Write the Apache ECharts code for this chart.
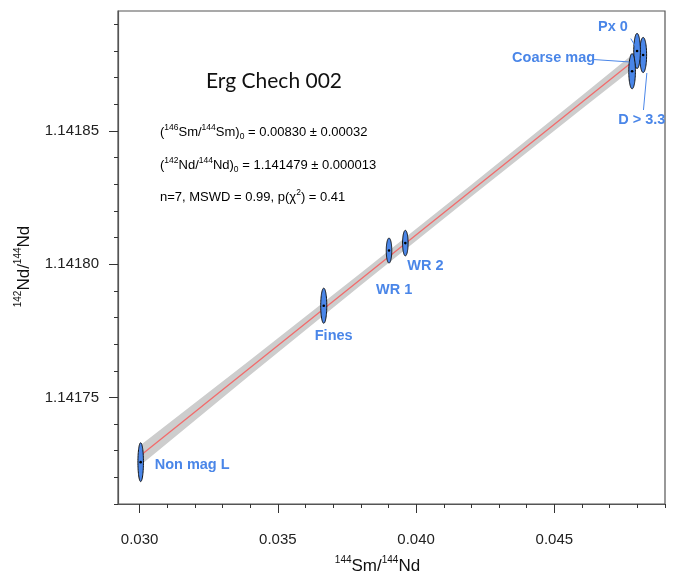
<!DOCTYPE html>
<html>
<head>
<meta charset="utf-8">
<style>
  html, body { margin: 0; padding: 0; background: #fff; }
  #chart { width: 675px; height: 574px; }
</style>
<script src="https://cdn.jsdelivr.net/npm/echarts@6/dist/echarts.min.js"></script>
</head>
<body>
<div id="chart"></div>
<script>
// samples: 144Sm/144Nd vs 142Nd/144Nd, with ellipse half axes
const names = ['Non mag L', 'Fines', 'WR 1', 'WR 2', 'D > 3.3', 'Px 0', 'Coarse mag']
const smNd = [0.03004, 0.03666, 0.03902, 0.03961, 0.04821, 0.04799, 0.04781]
const ndNd = [1.1417257, 1.1417844, 1.1418051, 1.1418079, 1.1418785, 1.14188, 1.1418724]
const errX = [0.0001, 0.00011, 0.0001, 0.0001, 0.000125, 0.00012, 0.00012]
const errY = [0.0000073, 0.0000066, 0.0000047, 0.0000048, 0.0000066, 0.0000066, 0.0000066]

// isochron fit and its error envelope
const fitX = [0.0301, 0.0477]
const fitY = [1.1417288, 1.1418749]
const bandX = [0.0301, 0.034, 0.038, 0.042, 0.046, 0.0477]
const bandLo = [1.1417251, 1.1417584, 1.1417921, 1.1418254, 1.1418583, 1.1418722]
const bandHi = [1.1417326, 1.141764, 1.1417967, 1.1418298, 1.1418633, 1.1418776]

// ticks
const xMajor = [0.030, 0.035, 0.040, 0.045]
const xMinor = [0.031, 0.032, 0.033, 0.034, 0.036, 0.037, 0.038, 0.039, 0.041, 0.042, 0.043, 0.044, 0.046, 0.047, 0.048, 0.049]
const yMajor = [1.14175, 1.1418, 1.14185]
const yMinor = [1.14171, 1.14172, 1.14173, 1.14174, 1.14176, 1.14177, 1.14178, 1.14179,
  1.14181, 1.14182, 1.14183, 1.14184, 1.14186, 1.14187, 1.14188, 1.14189]

const blue = '#4a86e8'
const font = '"Liberation Sans", Arial, sans-serif'

// label placement relative to ellipse centre (px), optional leader line
const labelPos = [
  { dx: 14, dy: 3, align: 'left' },
  { dx: -9, dy: 30, align: 'left' },
  { dx: -13, dy: 39, align: 'left' },
  { dx: 2, dy: 23, align: 'left' },
  { dx: -25, dy: 65, align: 'left', lead: [3.7, 18, 0.3, 55] },
  { dx: -39, dy: -24, align: 'left', lead: [-6.3, -12.4, -1.3, -4] },
  { dx: -37, dy: -13, align: 'right', lead: [-38.7, -11.7, -3, -9.3] },
]

const chart = echarts.init(document.getElementById('chart'))

const renderBand = (params, api) => {
  const pts = []
  bandX.forEach((x, i) => pts.push(api.coord([x, bandHi[i]])))
  for (let i = bandX.length - 1; i >= 0; i--) pts.push(api.coord([bandX[i], bandLo[i]]))
  return { type: 'polygon', shape: { points: pts }, style: { fill: '#cdcdcd' } }
}

const renderEllipse = (params, api) => {
  const i = api.value(4)
  const c = api.coord([api.value(0), api.value(1)])
  const s = api.size([api.value(2), api.value(3)])
  const rx = Math.abs(s[0])
  const ry = Math.abs(s[1])
  const pts = []
  for (let k = 0; k < 72; k++) {
    const a = (k / 72) * Math.PI * 2
    pts.push([c[0] + rx * Math.cos(a), c[1] + ry * Math.sin(a)])
  }
  const lab = labelPos[i]
  const children = [
    { type: 'polygon', shape: { points: pts }, style: { fill: blue, stroke: '#111', lineWidth: 1 } },
    { type: 'circle', shape: { cx: c[0], cy: c[1], r: 1.3 }, style: { fill: '#000' } },
    {
      type: 'text',
      x: c[0] + lab.dx,
      y: c[1] + lab.dy,
      style: {
        text: names[i],
        fill: blue,
        font: 'bold 14.5px ' + font,
        align: lab.align,
        verticalAlign: 'middle',
      },
    },
  ]
  if (lab.lead) {
    children.push({
      type: 'line',
      shape: { x1: c[0] + lab.lead[0], y1: c[1] + lab.lead[1], x2: c[0] + lab.lead[2], y2: c[1] + lab.lead[3] },
      style: { stroke: blue, lineWidth: 1 },
    })
  }
  return { type: 'group', children }
}

const statRich = {
  n: { fontSize: 13, lineHeight: 18, fontFamily: font, color: '#111' },
  s: { fontSize: 8.5, verticalAlign: 'top', fontFamily: font, color: '#111' },
  b: { fontSize: 8.5, verticalAlign: 'bottom', fontFamily: font, color: '#111' },
}

const axisNameRich = {
  n: { fontSize: 17, lineHeight: 22, fontFamily: font, color: '#111' },
  s: { fontSize: 10, verticalAlign: 'top', fontFamily: font, color: '#111' },
}

const grid = {
  left: 118,
  right: 10,
  top: 11,
  bottom: 70,
  outerBoundsMode: 'none',
  show: true,
  borderColor: '#555',
  borderWidth: 1.2,
}

chart.setOption({
  animation: false,
  textStyle: { fontFamily: font },
  grid,
  xAxis: [
    {
      type: 'value',
      min: 0.02922,
      max: 0.049,
      position: 'bottom',
      splitLine: { show: false },
      axisLine: { show: true, lineStyle: { color: '#555', width: 1.2 } },
      axisTick: { show: true, length: 9, customValues: xMajor, lineStyle: { color: '#333' } },
      axisLabel: {
        customValues: xMajor,
        margin: 28,
        fontSize: 15,
        color: '#222',
        formatter: (v) => v.toFixed(3),
      },
      name: '{s|144}{n|Sm/}{s|144}{n|Nd}',
      nameLocation: 'middle',
      nameGap: 51,
      nameTextStyle: { rich: axisNameRich, padding: [0, 28, 0, 0] },
    },
    {
      type: 'value',
      min: 0.02922,
      max: 0.049,
      position: 'bottom',
      splitLine: { show: false },
      axisLine: { show: false },
      axisTick: { show: true, length: 4, customValues: xMinor, lineStyle: { color: '#333' } },
      axisLabel: { show: false },
    },
  ],
  yAxis: [
    {
      type: 'value',
      min: 1.14171,
      max: 1.141895,
      position: 'left',
      splitLine: { show: false },
      axisLine: { show: true, lineStyle: { color: '#555', width: 1.2 } },
      axisTick: { show: true, length: 9, customValues: yMajor, lineStyle: { color: '#333' } },
      axisLabel: {
        customValues: yMajor,
        margin: 19,
        fontSize: 15,
        color: '#222',
        formatter: (v) => v.toFixed(5),
      },
      name: '{s|142}{n|Nd/}{s|144}{n|Nd}',
      nameLocation: 'middle',
      nameGap: 83,
      nameRotate: 90,
      nameTextStyle: { rich: axisNameRich, padding: [0, 18, 0, 0] },
    },
    {
      type: 'value',
      min: 1.14171,
      max: 1.141895,
      position: 'left',
      splitLine: { show: false },
      axisLine: { show: false },
      axisTick: { show: true, length: 4, customValues: yMinor, lineStyle: { color: '#333' } },
      axisLabel: { show: false },
    },
  ],
  graphic: [
    {
      type: 'text',
      x: 206,
      y: 81,
      style: { text: 'Erg Chech 002', font: '21px Lato, "Open Sans", sans-serif', fill: '#111', verticalAlign: 'middle' },
    },
    {
      type: 'text',
      x: 160,
      y: 132,
      style: {
        text: '{n|(}{s|146}{n|Sm/}{s|144}{n|Sm)}{b|0}{n| = 0.00830 ± 0.00032}',
        rich: statRich,
        verticalAlign: 'middle',
      },
    },
    {
      type: 'text',
      x: 160,
      y: 165,
      style: {
        text: '{n|(}{s|142}{n|Nd/}{s|144}{n|Nd)}{b|0}{n| = 1.141479 ± 0.000013}',
        rich: statRich,
        verticalAlign: 'middle',
      },
    },
    {
      type: 'text',
      x: 160,
      y: 197,
      style: {
        text: '{n|n=7, MSWD = 0.99, p(χ}{s|2}{n|) = 0.41}',
        rich: statRich,
        verticalAlign: 'middle',
      },
    },
  ],
  series: [
    {
      type: 'custom',
      xAxisIndex: 0,
      yAxisIndex: 0,
      clip: false,
      silent: true,
      renderItem: renderBand,
      data: [[bandX[0], bandLo[0]]],
      z: 1,
    },
    {
      type: 'line',
      xAxisIndex: 0,
      yAxisIndex: 0,
      symbol: 'none',
      lineStyle: { color: '#f26a6a', width: 1.3 },
      data: fitX.map((x, i) => [x, fitY[i]]),
      z: 2,
    },
    {
      type: 'custom',
      xAxisIndex: 0,
      yAxisIndex: 0,
      clip: false,
      renderItem: renderEllipse,
      encode: { x: 0, y: 1 },
      data: names.map((n, i) => [smNd[i], ndNd[i], errX[i], errY[i], i]),
      z: 3,
    },
  ],
})
</script>
</body>
</html>
